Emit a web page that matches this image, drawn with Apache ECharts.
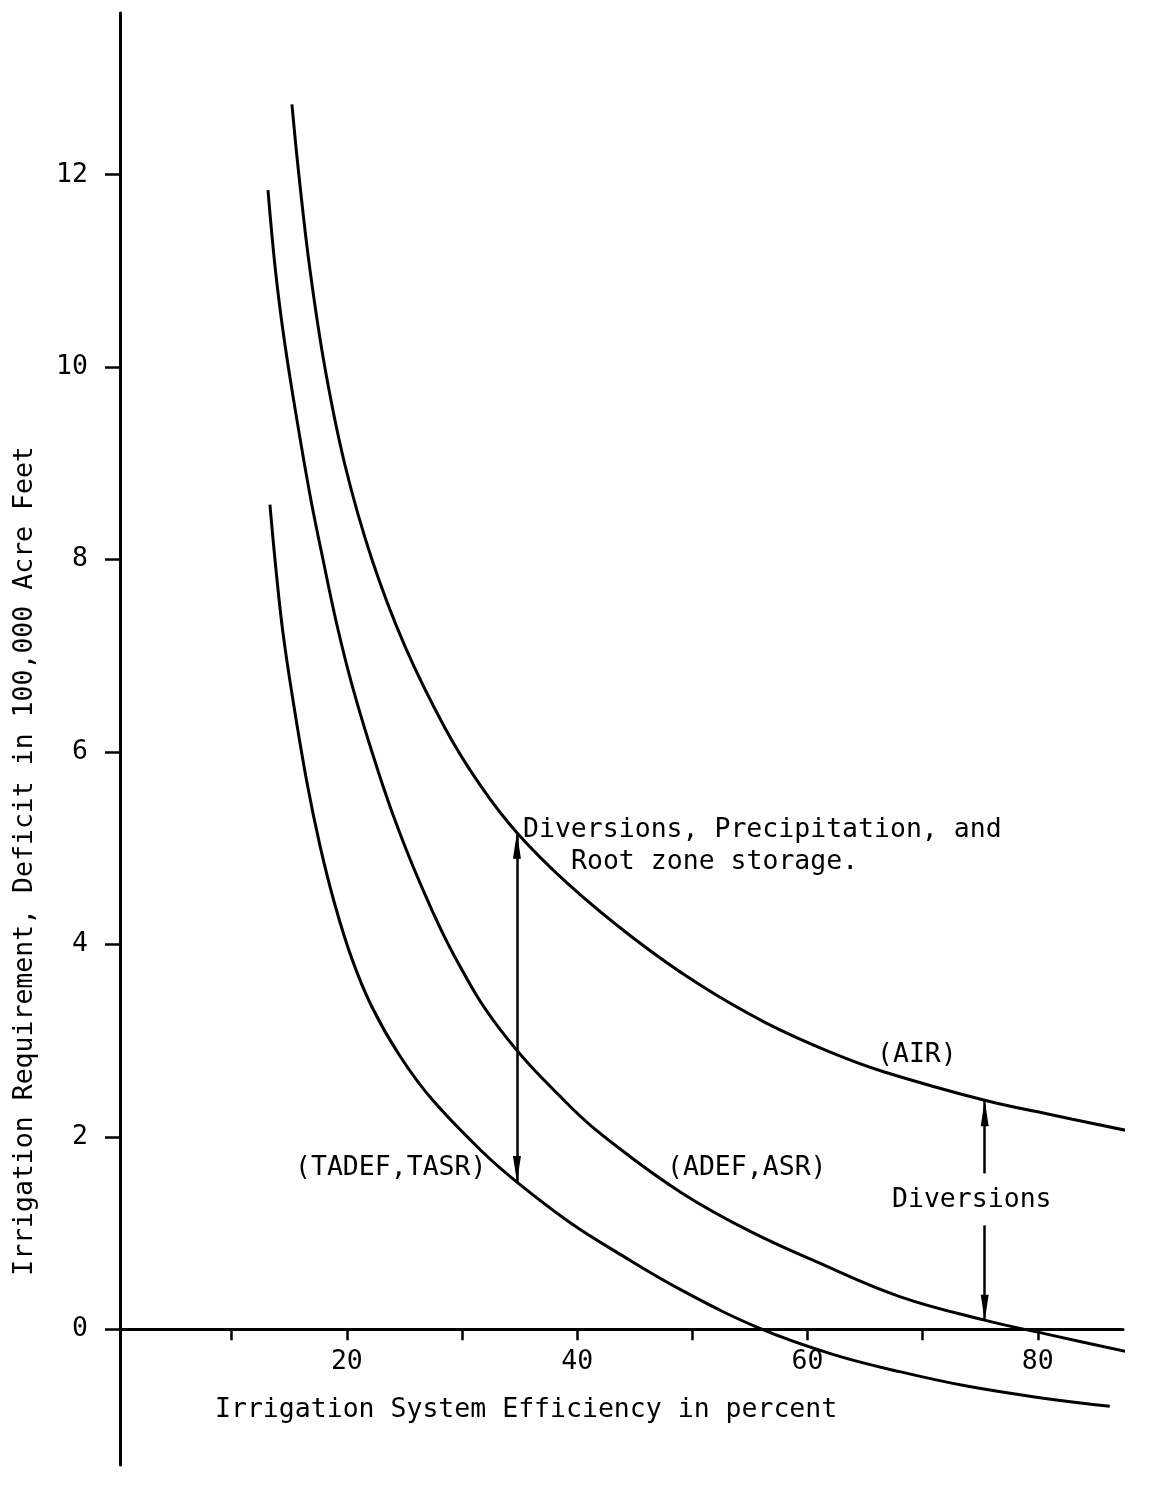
<!DOCTYPE html>
<html>
<head>
<meta charset="utf-8">
<script src="https://cdn.jsdelivr.net/npm/echarts@6/dist/echarts.min.js"></script>
<style>
  html, body { margin: 0; padding: 0; background: #fff; }
  #chart { width: 1153px; height: 1492px; }
</style>
</head>
<body>
<div id="chart"></div>
<script>
// Axis ticks and labels
const xTicks = [10, 20, 30, 40, 50, 60, 70, 80];
const xTickLabels = [20, 40, 60, 80];
const yTicks = [0, 2, 4, 6, 8, 10, 12];

// (AIR) curve: efficiency (%) vs. requirement (100,000 acre feet)
const airX = [15.23, 15.84, 16.80, 18.10, 19.84, 22.18, 25.04, 28.52, 31.55, 34.77, 39.11, 44.84, 50.65, 56.47, 62.20, 66.54, 75.39, 80.77, 87.98];
const airY = [12.73, 11.99, 11.01, 9.99, 8.98, 8.00, 7.10, 6.25, 5.66, 5.16, 4.64, 4.07, 3.58, 3.18, 2.87, 2.68, 2.38, 2.24, 2.06];

// (ADEF,ASR) curve
const adefX = [13.15, 13.76, 14.45, 15.32, 16.80, 17.93, 19.14, 20.44, 22.00, 23.91, 26.35, 29.38, 33.29, 39.11, 43.45, 49.18, 54.99, 60.81, 68.01, 75.56, 80.77, 89.97];
const adefY = [11.84, 11.05, 10.38, 9.70, 8.67, 8.00, 7.32, 6.70, 6.07, 5.38, 4.64, 3.87, 3.12, 2.35, 1.90, 1.41, 1.02, 0.70, 0.34, 0.09, -0.05, -0.29];

// (TADEF,TASR) curve
const tadefX = [13.32, 13.85, 14.45, 15.32, 16.54, 17.66, 18.97, 20.44, 22.18, 24.61, 27.39, 31.81, 34.77, 39.37, 43.45, 49.18, 55.86, 62.20, 68.01, 73.83, 80.17, 86.25];
const tadefY = [8.57, 7.89, 7.24, 6.54, 5.68, 5.03, 4.41, 3.85, 3.35, 2.84, 2.39, 1.84, 1.53, 1.11, 0.80, 0.40, 0.01, -0.26, -0.44, -0.59, -0.71, -0.80];

// Arrow spans: [x, yFrom, yTo]
const spanArrow = [34.77, 1.53, 5.16];          // TADEF -> AIR, double headed
const diversionsUpper = [75.39, 1.62, 2.38];    // pointing up to AIR
const diversionsLower = [75.39, 1.08, 0.09];    // pointing down to ADEF

// Axis extents
const xRange = [0.3, 87.4];
const yRange = [-1.41, 13.68];

const FONT = '"DejaVu Sans Mono", "Liberation Mono", monospace';
const FS = 26.5;
const INK = '#000';

const GRID = { left: 120, right: 30, top: 13, bottom: 27 };
const CHART_H = 1492;
// the horizontal axis runs along y = 0, so shift it up from the grid bottom
const gridH = CHART_H - GRID.top - GRID.bottom;
const xAxisOffset = -(0 - yRange[0]) * gridH / (yRange[1] - yRange[0]);

function pairs(xs, ys) { return xs.map((x, i) => [x, ys[i]]); }

const arrowHead = { symbol: 'triangle', symbolSize: [8, 26], symbolOffset: [0, '50%'] };
function arrowLine(a, headStart, headEnd) {
  return [
    Object.assign({ coord: [a[0], a[1]] }, headStart ? arrowHead : { symbol: 'none' }),
    Object.assign({ coord: [a[0], a[2]] }, headEnd ? arrowHead : { symbol: 'none' })
  ];
}

const curveStyle = { color: INK, width: 3 };
const curveBase = { type: 'line', smooth: 0.4, showSymbol: false, clip: false, lineStyle: curveStyle };

const chart = echarts.init(document.getElementById('chart'), null, { renderer: 'canvas' });
chart.setOption({
  animation: false,
  backgroundColor: '#fff',
  grid: Object.assign({ containLabel: false, outerBoundsMode: 'none' }, GRID),
  xAxis: {
    type: 'value', min: xRange[0], max: xRange[1],
    position: 'bottom', offset: xAxisOffset,
    axisLine: { onZero: false, lineStyle: { color: INK, width: 3 } },
    axisTick: { show: true, length: 11, customValues: xTicks, lineStyle: { color: INK, width: 2.5 } },
    axisLabel: { customValues: xTickLabels, margin: 19, color: INK, fontFamily: FONT, fontSize: FS },
    splitLine: { show: false }
  },
  yAxis: {
    type: 'value', min: yRange[0], max: yRange[1],
    axisLine: { show: true, onZero: false, lineStyle: { color: INK, width: 3 } },
    axisTick: { show: true, length: 15, customValues: yTicks, lineStyle: { color: INK, width: 2.5 } },
    axisLabel: { customValues: yTicks, margin: 32, color: INK, fontFamily: FONT, fontSize: FS },
    splitLine: { show: false }
  },
  series: [
    Object.assign({ name: 'AIR', data: pairs(airX, airY) }, curveBase),
    Object.assign({ name: 'ADEF,ASR', data: pairs(adefX, adefY) }, curveBase),
    Object.assign({
      name: 'TADEF,TASR', data: pairs(tadefX, tadefY),
      markLine: {
        silent: true, animation: false,
        lineStyle: { color: INK, width: 2.5, type: 'solid' },
        label: { show: false },
        emphasis: { disabled: true },
        data: [
          arrowLine(spanArrow, true, true),
          arrowLine(diversionsUpper, false, true),
          arrowLine(diversionsLower, false, true)
        ]
      }
    }, curveBase)
  ],
  graphic: [
    { type: 'text', x: 25, y: 861, rotation: Math.PI / 2,
      style: { text: 'Irrigation Requirement, Deficit in 100,000 Acre Feet', font: FS + 'px ' + FONT, fill: INK, textAlign: 'center', textVerticalAlign: 'middle' } },
    { type: 'text', x: 215, y: 1410,
      style: { text: 'Irrigation System Efficiency in percent', font: FS + 'px ' + FONT, fill: INK, textAlign: 'left', textVerticalAlign: 'middle' } },
    { type: 'text', x: 523, y: 830,
      style: { text: 'Diversions, Precipitation, and', font: FS + 'px ' + FONT, fill: INK, textAlign: 'left', textVerticalAlign: 'middle' } },
    { type: 'text', x: 571, y: 862,
      style: { text: 'Root zone storage.', font: FS + 'px ' + FONT, fill: INK, textAlign: 'left', textVerticalAlign: 'middle' } },
    { type: 'text', x: 877, y: 1055,
      style: { text: '(AIR)', font: FS + 'px ' + FONT, fill: INK, textAlign: 'left', textVerticalAlign: 'middle' } },
    { type: 'text', x: 295, y: 1168,
      style: { text: '(TADEF,TASR)', font: FS + 'px ' + FONT, fill: INK, textAlign: 'left', textVerticalAlign: 'middle' } },
    { type: 'text', x: 667, y: 1168,
      style: { text: '(ADEF,ASR)', font: FS + 'px ' + FONT, fill: INK, textAlign: 'left', textVerticalAlign: 'middle' } },
    { type: 'text', x: 892, y: 1200,
      style: { text: 'Diversions', font: FS + 'px ' + FONT, fill: INK, textAlign: 'left', textVerticalAlign: 'middle' } }
  ]
});
</script>
</body>
</html>
